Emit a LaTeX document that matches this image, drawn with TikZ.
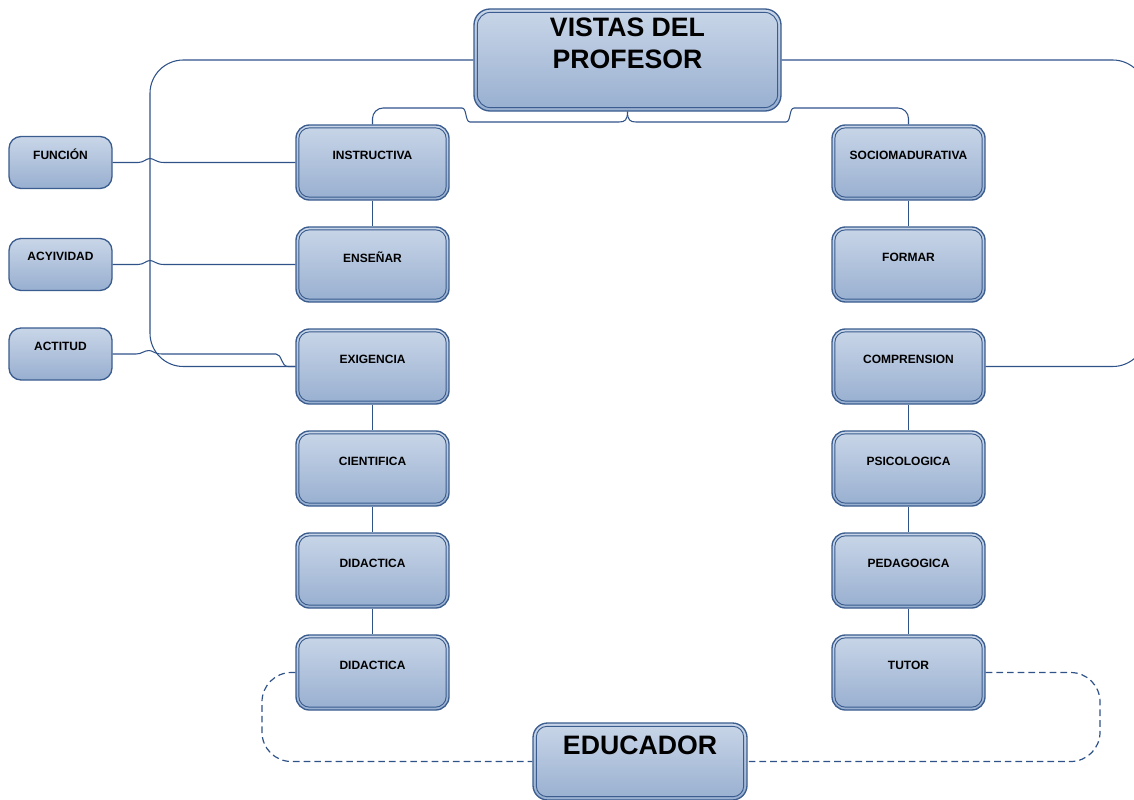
\documentclass[tikz,border=0pt]{standalone}
\usepackage{fontspec}
\setmainfont{Liberation Sans}
\begin{document}
\begin{tikzpicture}[x=0.75pt,y=-0.75pt,
  every node/.style={font=\bfseries},
  boxfill/.style={top color=boxtop,bottom color=boxbot,draw=boxline,line width=1pt},
  colbox/.style={boxfill,rounded corners=10pt,minimum width=114.75pt,minimum height=56.25pt,inner sep=0pt},
  smallbox/.style={boxfill,rounded corners=9pt,minimum width=77.25pt,minimum height=39pt,inner sep=0pt},
  inline/.style={draw=boxline,line width=0.7pt,rounded corners=8pt},
  lbl/.style={font=\bfseries\fontsize{9}{11}\selectfont,text=black,fill=none,draw=none,anchor=center,yshift=5.6pt},
  biglbl/.style={font=\bfseries\fontsize{20}{24}\selectfont,text=black,fill=none,draw=none,anchor=center,align=center},
  conn/.style={draw=linecol,line width=0.8pt},
  dconn/.style={draw=linecol,line width=0.9pt,dash pattern=on 5pt off 3pt}
]
\definecolor{boxtop}{HTML}{C9D6E8}
\definecolor{boxbot}{HTML}{98AFD0}
\definecolor{boxline}{HTML}{3A5C8E}
\definecolor{linecol}{HTML}{2F5289}
\useasboundingbox (0,0) rectangle (1134,799);
\clip (0,0) rectangle (1134,799);

% top box
\node[boxfill,rounded corners=12pt,minimum width=230.25pt,minimum height=76.5pt,inner sep=0pt,
  label={[biglbl,yshift=12.75pt]center:VISTAS DEL\\PROFESOR}] (top) at (627.5,60) {};
\draw[inline,rounded corners=10pt] ([shift={(4,4)}]top.north west) rectangle ([shift={(-4,-4)}]top.south east);

% educador
\node[boxfill,rounded corners=11pt,minimum width=160.5pt,minimum height=57.75pt,inner sep=0pt,
  label={[biglbl,yshift=12.4pt]center:EDUCADOR}] (educ) at (640,761.5) {};
\draw[inline] ([shift={(4,4)}]educ.north west) rectangle ([shift={(-4,-4)}]educ.south east);

% left column
\foreach \n/\t/\y in {instr/INSTRUCTIVA/162.5, ense/ENSEÑAR/264.5, exig/EXIGENCIA/366.5,
    cient/CIENTIFICA/468.5, did1/DIDACTICA/570.5, did2/DIDACTICA/672.5}{
  \node[colbox,label={[lbl]center:\t}] (\n) at (372.5,\y) {};
  \draw[inline] ([shift={(3.5,3.5)}]\n.north west) rectangle ([shift={(-3.5,-3.5)}]\n.south east);
}
% right column
\foreach \n/\t/\y in {socio/SOCIOMADURATIVA/162.5, form/FORMAR/264.5, comp/COMPRENSION/366.5,
    psic/PSICOLOGICA/468.5, peda/PEDAGOGICA/570.5, tutor/TUTOR/672.5}{
  \node[colbox,label={[lbl]center:\t}] (\n) at (908.5,\y) {};
  \draw[inline] ([shift={(3.5,3.5)}]\n.north west) rectangle ([shift={(-3.5,-3.5)}]\n.south east);
}
% small boxes
\node[smallbox,label={[lbl,yshift=0.4pt]center:FUNCIÓN}] (func) at (60.5,162.5) {};
\node[smallbox,label={[lbl,yshift=0.4pt]center:ACYIVIDAD}] (acti) at (60.5,264.5) {};
\node[smallbox,label={[lbl,yshift=0.4pt]center:ACTITUD}] (acttd) at (60.5,354) {};

% vertical connectors
\draw[conn] (instr.south) -- (ense.north);
\draw[conn] (exig.south) -- (cient.north);
\draw[conn] (cient.south) -- (did1.north);
\draw[conn] (did1.south) -- (did2.north);
\draw[conn] (socio.south) -- (form.north);
\draw[conn] (comp.south) -- (psic.north);
\draw[conn] (psic.south) -- (peda.north);
\draw[conn] (peda.south) -- (tutor.north);

% bracket from top box
\coordinate (bl) at (462,108);
\coordinate (br) at (794,108);
\draw[conn] (top.south) .. controls (627.5,120) and (625,122) .. (619,122) -- (470,122)
  .. controls (465,122) and (467,108) .. (bl);
\draw[conn,rounded corners=8pt] (bl) -| (instr.north);
\draw[conn] (top.south) .. controls (627.5,120) and (630,122) .. (636,122) -- (786,122)
  .. controls (791,122) and (789,108) .. (br);
\draw[conn,rounded corners=8pt] (br) -| (socio.north);

% left loop
\draw[conn,rounded corners=25pt] (top.west) -| (150,366.5) -- (exig.west);
% right loop
\draw[conn,rounded corners=25pt] (top.east) -| (1146,366.5) -- (comp.east);

% side connectors with hops
\draw[conn] (func.east) -- (138,162.5) .. controls (144,162.5) and (146,158.5) .. (150,158.5)
  .. controls (154,158.5) and (156,162.5) .. (164,162.5) -- (instr.west);
\draw[conn] (acti.east) -- (138,264.5) .. controls (144,264.5) and (146,260.5) .. (150,260.5)
  .. controls (154,260.5) and (156,264.5) .. (164,264.5) -- (ense.west);
\draw[conn] (acttd.east) -- (136,354) .. controls (142,354) and (144,350.5) .. (149,350.5)
  .. controls (153,350.5) and (154,354) .. (162,354) -- (276,354)
  .. controls (282,354) and (281,366.5) .. (288,366.5) -- (exig.west);

% dashed loop to educador
\draw[dconn,rounded corners=22pt] (did2.west) -| (262,761.5) -- (educ.west);
\draw[dconn,rounded corners=22pt] (tutor.east) -| (1100,761.5) -- (educ.east);
\end{tikzpicture}
\end{document}
